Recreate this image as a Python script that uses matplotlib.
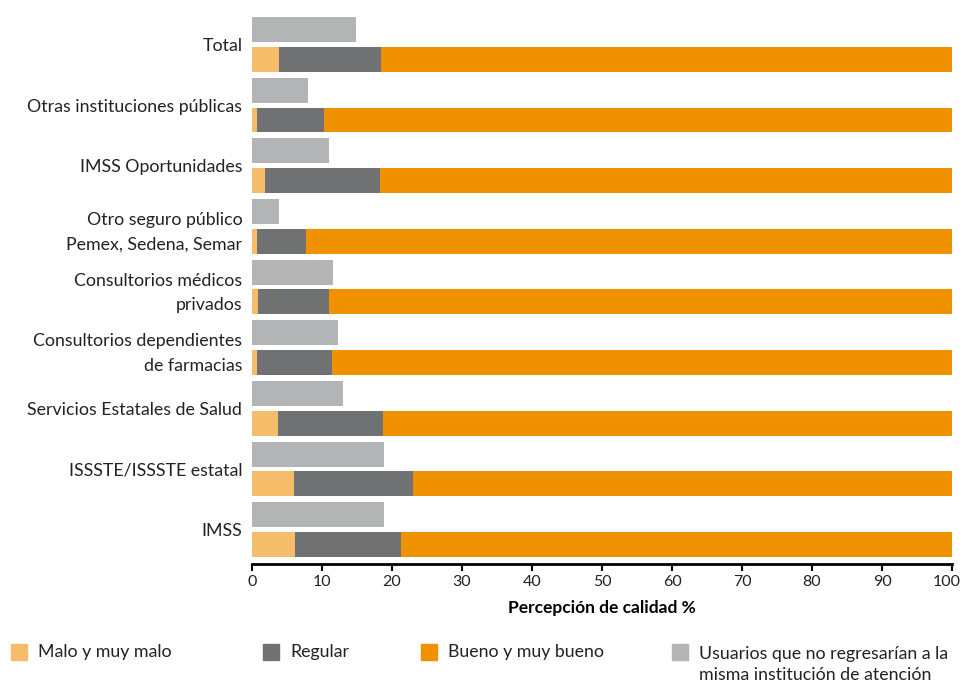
import matplotlib.pyplot as plt
import matplotlib.transforms as mtransforms
from matplotlib.patches import Rectangle
import numpy as np

# categories listed bottom to top
categories = ['IMSS', 'ISSSTE/ISSSTE estatal', 'Servicios Estatales de Salud',
              'Consultorios dependientes\nde farmacias', 'Consultorios médicos\nprivados',
              'Otro seguro público\nPemex, Sedena, Semar', 'IMSS Oportunidades',
              'Otras instituciones públicas', 'Total']
malo = [6.1, 6.0, 3.7, 0.7, 0.9, 0.7, 1.9, 0.7, 3.9]
regular = [15.2, 17.0, 15.0, 10.7, 10.1, 7.0, 16.4, 9.6, 14.5]
bueno = [100 - m - r for m, r in zip(malo, regular)]
no_regresarian = [18.9, 18.9, 13.0, 12.3, 11.6, 3.9, 11.0, 8.0, 14.9]

c_malo = '#F5BD6A'
c_regular = '#707173'
c_bueno = '#F09200'
c_no = '#B3B4B6'

plt.rcParams['font.family'] = ['Lato', 'DejaVu Sans']

fig = plt.figure(figsize=(9.64, 6.83), dpi=100)
ax = fig.add_axes([252 / 964, 119 / 683, 700 / 964, 547 / 683])

y = np.arange(len(categories))
h = 0.41
off = 0.246
ax.barh(y + off, no_regresarian, height=h, color=c_no)
ax.barh(y - off, malo, height=h, color=c_malo)
ax.barh(y - off, regular, height=h, left=malo, color=c_regular)
left2 = [m + r for m, r in zip(malo, regular)]
ax.barh(y - off, bueno, height=h, left=left2, color=c_bueno)

ax.set_xlim(0, 100)
ax.set_ylim(-0.566, 8.451)
ax.set_yticks(y)
ax.set_yticklabels(categories, fontsize=12.8, color='#222222', linespacing=1.65)
ax.tick_params(axis='y', length=0, pad=7)
ax.set_xticks(range(0, 101, 10))
ax.tick_params(axis='x', length=5, width=1.5, labelsize=11.5, labelcolor='#222222', pad=3)
ax.set_xlabel('Percepción de calidad %', fontsize=12.5, fontweight='bold', labelpad=8)
for s in ['top', 'right', 'left']:
    ax.spines[s].set_visible(False)
ax.spines['bottom'].set_linewidth(2)

# nudge the "100" label so it stays inside the figure
last = ax.get_xticklabels()[-1]
last.set_transform(last.get_transform() + mtransforms.ScaledTranslation(-5 / 100, 0, fig.dpi_scale_trans))

# legend drawn by hand along the bottom
items = [(11, 'Malo y muy malo', c_malo), (263, 'Regular', c_regular),
         (421, 'Bueno y muy bueno', c_bueno),
         (672, 'Usuarios que no regresarían a la\nmisma institución de atención', c_no)]
for x0, label, col in items:
    fig.patches.append(Rectangle((x0 / 964, (683 - 660) / 683), 16 / 964, 16 / 683,
                                 transform=fig.transFigure, color=col))
    ty = 664.5 if '\n' in label else 652
    fig.text((x0 + 27) / 964, (683 - ty) / 683, label, fontsize=12.8, color='#222222',
             va='center', linespacing=1.45, transform=fig.transFigure)

fig.savefig('out.png', dpi=100)
